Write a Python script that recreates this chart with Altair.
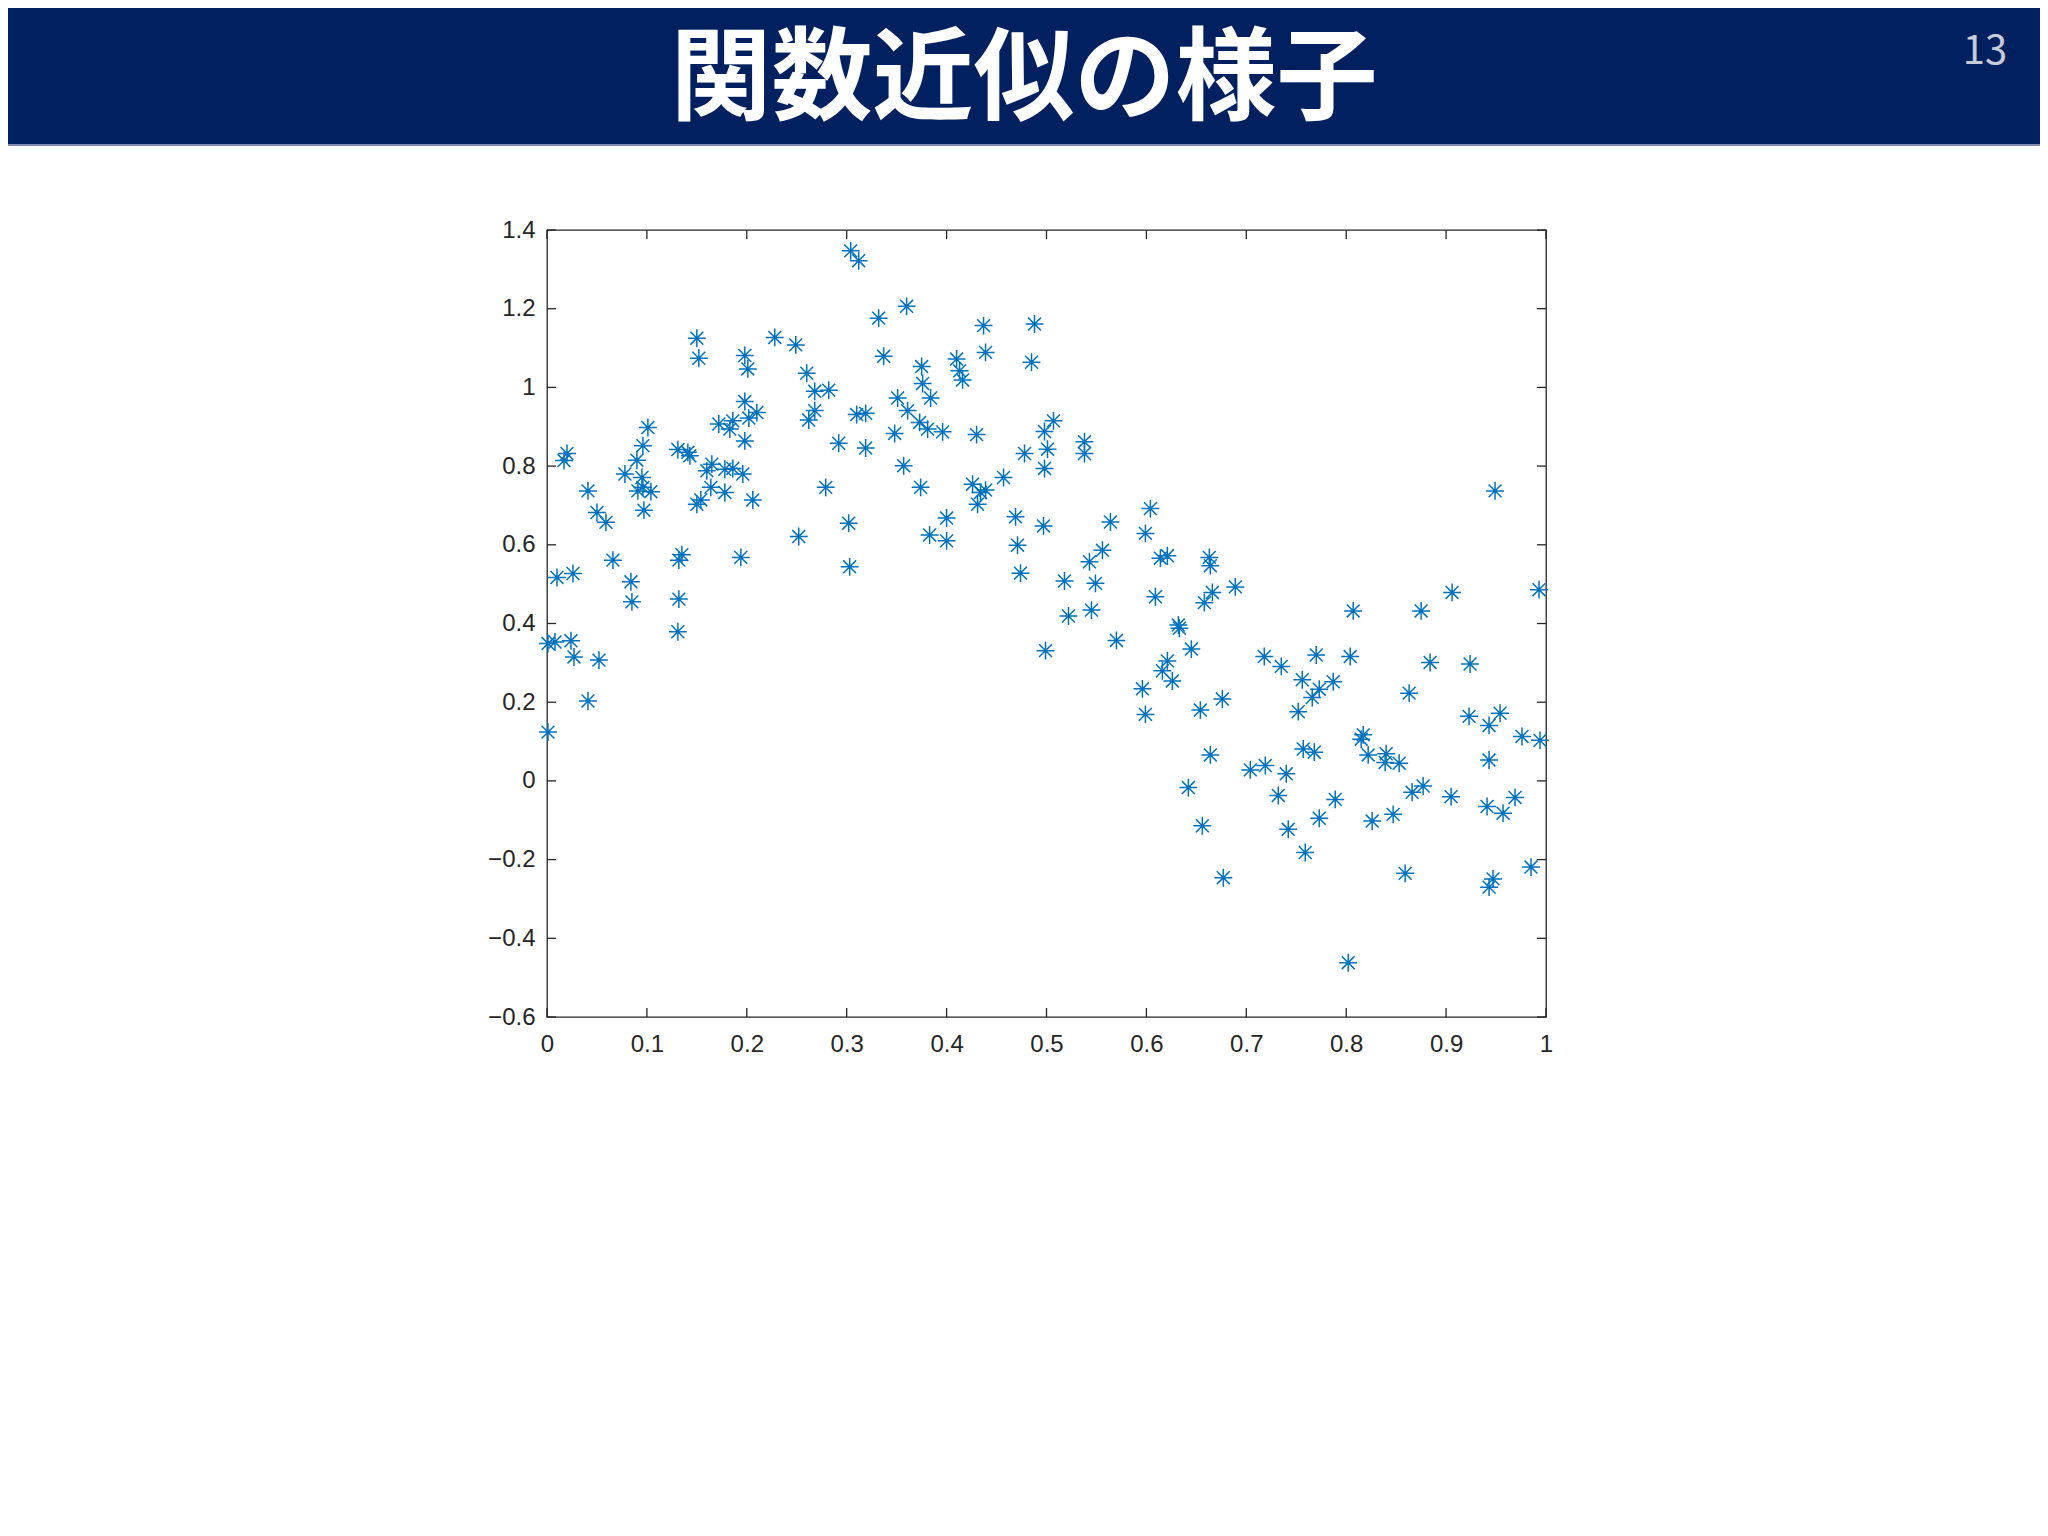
import altair as alt
import pandas as pd

TITLE = "関数近似の様子"
PAGE = "13"

xs = [0.010, 0.026, 0.017, 0.020, 0.041, 0.050, 0.059, 0.066, 0.084, 0.085, 0.078, 0.090, 0.096, 0.101,
      0.095, 0.091, 0.096, 0.104, 0.097, 0.131, 0.141, 0.143, 0.150, 0.152, 0.150, 0.154, 0.160, 0.165,
      0.164, 0.178, 0.178, 0.186, 0.196, 0.172, 0.183, 0.186, 0.198, 0.201, 0.198, 0.202, 0.210, 0.198,
      0.206, 0.194, 0.132, 0.135, 0.132, 0.131, 0.228,
      0.001, 0.008, 0.024, 0.027, 0.052, 0.041, 0.001,
      0.249, 0.260, 0.268, 0.282, 0.268, 0.262, 0.292, 0.319, 0.310, 0.319, 0.304, 0.312, 0.332, 0.360,
      0.337, 0.375, 0.376, 0.351, 0.361, 0.384, 0.373, 0.381, 0.396, 0.348, 0.410, 0.413, 0.416, 0.437,
      0.439, 0.430, 0.488, 0.485, 0.279, 0.357, 0.374, 0.252, 0.302, 0.303, 0.400, 0.383, 0.400, 0.426,
      0.434, 0.439, 0.431, 0.457, 0.478, 0.498, 0.507, 0.501, 0.498, 0.469, 0.471, 0.474, 0.497,
      0.538, 0.538, 0.564, 0.604, 0.599, 0.556, 0.543, 0.549, 0.518, 0.522, 0.545, 0.609, 0.614, 0.621,
      0.663, 0.664, 0.666, 0.658, 0.689,
      0.499, 0.570, 0.632, 0.633, 0.645, 0.621, 0.616, 0.626, 0.596, 0.599, 0.654, 0.676, 0.664, 0.642,
      0.656, 0.677, 0.718, 0.735, 0.770, 0.756, 0.773, 0.766, 0.787, 0.752, 0.757, 0.768, 0.704, 0.719,
      0.740, 0.732, 0.742, 0.773, 0.759, 0.789,
      0.807, 0.875, 0.804, 0.884, 0.924, 0.863, 0.923, 0.954, 0.943, 0.976, 0.994, 0.817, 0.815, 0.822,
      0.840, 0.839, 0.853, 0.943, 0.826, 0.847, 0.866, 0.877, 0.905, 0.941, 0.957, 0.969, 0.859, 0.947,
      0.943, 0.985, 0.802,
      0.949, 0.993, 0.906]

ys = [0.517, 0.527, 0.814, 0.832, 0.737, 0.682, 0.657, 0.561, 0.506, 0.455, 0.780, 0.815, 0.852, 0.898,
      0.771, 0.737, 0.746, 0.735, 0.688, 0.842, 0.835, 0.826, 1.125, 1.074, 0.703, 0.714, 0.788, 0.805,
      0.746, 0.733, 0.792, 0.794, 0.780, 0.907, 0.894, 0.915, 1.081, 1.047, 0.964, 0.922, 0.936, 0.864,
      0.714, 0.568, 0.561, 0.575, 0.462, 0.379, 1.127,
      0.349, 0.353, 0.356, 0.315, 0.307, 0.203, 0.124,
      1.108, 1.036, 0.990, 0.993, 0.941, 0.917, 0.858, 0.846, 0.931, 0.934, 1.347, 1.322, 1.176, 1.206,
      1.079, 1.053, 1.010, 0.973, 0.941, 0.973, 0.911, 0.894, 0.887, 0.883, 1.072, 1.042, 1.019, 1.157,
      1.089, 0.880, 1.161, 1.064, 0.746, 0.801, 0.746, 0.621, 0.655, 0.544, 0.668, 0.625, 0.610, 0.754,
      0.733, 0.739, 0.703, 0.771, 0.832, 0.888, 0.915, 0.843, 0.794, 0.671, 0.599, 0.528, 0.648,
      0.862, 0.832, 0.658, 0.692, 0.629, 0.586, 0.557, 0.502, 0.508, 0.419, 0.434, 0.468, 0.566, 0.572,
      0.568, 0.547, 0.479, 0.453, 0.493,
      0.331, 0.357, 0.396, 0.388, 0.335, 0.305, 0.280, 0.254, 0.234, 0.169, 0.180, 0.208, 0.066, -0.017,
      -0.114, -0.246, 0.316, 0.291, 0.320, 0.257, 0.233, 0.212, 0.252, 0.176, 0.081, 0.073, 0.028, 0.039,
      0.018, -0.037, -0.123, -0.095, -0.182, -0.047,
      0.432, 0.432, 0.316, 0.301, 0.297, 0.223, 0.164, 0.172, 0.141, 0.113, 0.103, 0.117, 0.106, 0.066,
      0.069, 0.047, 0.045, 0.053, -0.102, -0.085, -0.029, -0.013, -0.040, -0.065, -0.082, -0.042, -0.235, -0.249,
      -0.270, -0.219, -0.462,
      0.737, 0.486, 0.479]

xticks = [0, 0.1, 0.2, 0.3, 0.4, 0.5, 0.6, 0.7, 0.8, 0.9, 1]
yticks = [-0.6, -0.4, -0.2, 0, 0.2, 0.4, 0.6, 0.8, 1, 1.2, 1.4]

df = pd.DataFrame({"x": xs, "y": ys})
xt = pd.DataFrame({"x": xticks})
yt = pd.DataFrame({"y": yticks})
one = pd.DataFrame({"a": [0]})

W, H = 999, 787
AX = "#262626"
ASTERISK = "M-1,0L1,0M0,-1L0,1M-0.72,-0.72L0.72,0.72M-0.72,0.72L0.72,-0.72"

xscale = alt.Scale(domain=[0, 1], nice=False, zero=False)
yscale = alt.Scale(domain=[-0.6, 1.4], nice=False, zero=False)
xaxis = alt.Axis(values=xticks, format="~g", title=None, labelPadding=15, labelFontSize=24,
                 labelFlush=False, labelOverlap=False)
yaxis = alt.Axis(values=yticks, format="~g", title=None, labelPadding=12, labelFontSize=24,
                 labelFlush=False, labelOverlap=False)

points = alt.Chart(df).mark_point(
    shape=ASTERISK, filled=False, size=320, strokeWidth=1.5, color="#0072BD", opacity=1
).encode(
    x=alt.X("x:Q", scale=xscale, axis=xaxis),
    y=alt.Y("y:Q", scale=yscale, axis=yaxis),
)

tick_b = alt.Chart(xt).mark_rule(color=AX, strokeWidth=1.3).encode(
    x=alt.X("x:Q", scale=xscale, axis=xaxis), y=alt.value(H), y2=alt.value(H - 9))
tick_t = alt.Chart(xt).mark_rule(color=AX, strokeWidth=1.3).encode(
    x=alt.X("x:Q", scale=xscale, axis=xaxis), y=alt.value(0), y2=alt.value(9))
tick_l = alt.Chart(yt).mark_rule(color=AX, strokeWidth=1.3).encode(
    y=alt.Y("y:Q", scale=yscale, axis=yaxis), x=alt.value(0), x2=alt.value(9))
tick_r = alt.Chart(yt).mark_rule(color=AX, strokeWidth=1.3).encode(
    y=alt.Y("y:Q", scale=yscale, axis=yaxis), x=alt.value(W), x2=alt.value(W - 9))

band = alt.Chart(one).mark_rect(color="#002060").encode(
    x=alt.value(-539), x2=alt.value(1493), y=alt.value(-222), y2=alt.value(-84))
band_line = alt.Chart(one).mark_rect(color="#7f8db0").encode(
    x=alt.value(-539), x2=alt.value(1493), y=alt.value(-86), y2=alt.value(-84))

title = alt.Chart(pd.DataFrame({"t": [TITLE]})).mark_text(
    font="Noto Sans CJK JP", fontWeight="bold", fontSize=101, color="white",
    align="center", baseline="middle"
).encode(text="t:N", x=alt.value(477), y=alt.value(-148))

page = alt.Chart(pd.DataFrame({"t": [PAGE]})).mark_text(
    font="Noto Sans CJK JP", fontSize=40, color="#c8ccd8", align="center", baseline="middle"
).encode(text="t:N", x=alt.value(1438), y=alt.value(-178))

chart = alt.layer(band, band_line, title, page, tick_b, tick_t, tick_l, tick_r, points).properties(
    width=W, height=H,
    padding={"left": 539, "top": 222, "right": 494, "bottom": 200},
    autosize=alt.AutoSizeParams(type="none"),
    background="white",
).configure_view(
    stroke=AX, strokeWidth=1.3
).configure_axis(
    domain=False, ticks=False, grid=False, labelColor=AX, labelFont="Liberation Sans"
)

chart.save("out.html", embed_options={"renderer": "svg", "actions": False})
